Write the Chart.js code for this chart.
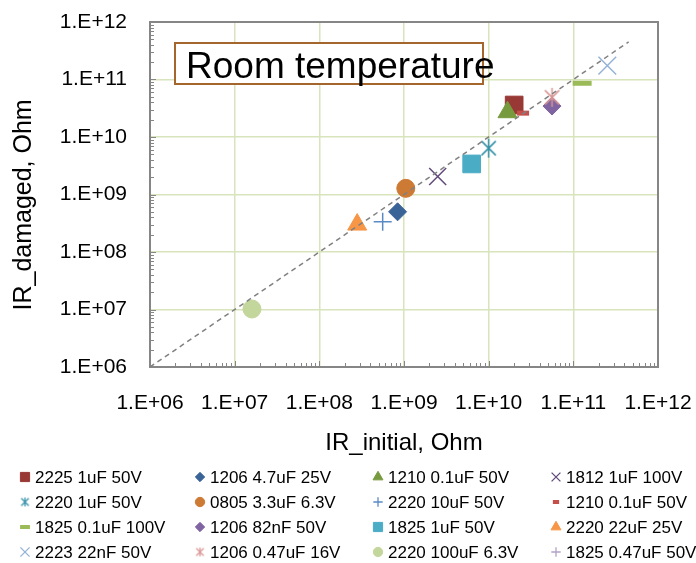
<!DOCTYPE html>
<html>
<head>
<meta charset="utf-8">
<title>IR damaged vs IR initial</title>
<script src="https://cdn.jsdelivr.net/npm/chart.js@4.4.1/dist/chart.umd.min.js"></script>
<style>
  html, body { margin: 0; padding: 0; background: #fff; }
  #wrap { width: 696px; height: 563px; position: relative; }
</style>
</head>
<body>
<div id="wrap"><canvas id="irChart"></canvas></div>
<script>
// Resistencia de isolamento antes / depois do dano (temperatura ambiente)
const seriesLabels = [
  '2225 1uF 50V', '1206 4.7uF 25V', '1210 0.1uF 50V', '1812 1uF 100V',
  '2220 1uF 50V', '0805 3.3uF 6.3V', '2220 10uF 50V', '1210 0.1uF 50V',
  '1825 0.1uF 100V', '1206 82nF 50V', '1825 1uF 50V', '2220 22uF 25V',
  '2223 22nF 50V', '1206 0.47uF 16V', '2220 100uF 6.3V', '1825 0.47uF 50V'
];
const irInitial = [2.0e10, 8.4e8, 1.67e10, 2.5e9, 1.0e10, 1.05e9, 5.6e8, 2.55e10,
  1.27e11, 5.6e10, 6.3e9, 2.8e8, 2.52e11, 5.6e10, 1.6e7, null];
const irDamaged = [3.6e10, 5.0e8, 2.7e10, 2.05e9, 6.4e9, 1.28e9, 3.35e8, 2.6e10,
  8.6e10, 3.45e10, 3.4e9, 3.0e8, 1.74e11, 4.9e10, 1.02e7, null];
const equalLine = [1e6, 4.5e11]; // linha y = x
const decades = [6, 7, 8, 9, 10, 11, 12];
const tickLabels = decades.map(p => '1.E+' + String(p).padStart(2, '0'));

// estilo de cada marcador (mesma ordem das series)
const markerStyles = [
  { shape: 'rect', color: '#983936', r: 12.5 },
  { shape: 'rectRot', color: '#3a6398', r: 9 },
  { shape: 'triangle', color: '#779a3e', r: 11 },
  { shape: 'crossRot', color: '#604a7b', r: 12 },
  { shape: 'asterisk', color: '#3490a8', r: 10 },
  { shape: 'circle', color: '#cd7a34', r: 9 },
  { shape: 'cross', color: '#5a8ac6', r: 9 },
  { shape: 'line', color: '#c54f4a', r: 6 },
  { shape: 'line', color: '#9bbb59', r: 9.5 },
  { shape: 'rectRot', color: '#8064a2', r: 9 },
  { shape: 'rect', color: '#4bacc6', r: 12.5 },
  { shape: 'triangle', color: '#f79646', r: 11 },
  { shape: 'crossRot', color: '#95b3d7', r: 12.5 },
  { shape: 'asterisk', color: '#d99694', r: 10 },
  { shape: 'circle', color: '#c3d69b', r: 9 },
  { shape: 'cross', color: '#b3a2c7', r: 9 }
];

// asterisco estilo Excel: X com traco vertical
function asterisk(color, size) {
  const c = document.createElement('canvas');
  c.width = c.height = size;
  const g = c.getContext('2d');
  const m = size / 2, d = size * 0.34;
  g.strokeStyle = color;
  g.lineWidth = size > 14 ? 1.5 : 1.2;
  g.beginPath();
  g.moveTo(m - d, m - d); g.lineTo(m + d, m + d);
  g.moveTo(m - d, m + d); g.lineTo(m + d, m - d);
  g.moveTo(m, 1); g.lineTo(m, size - 1);
  g.stroke();
  return c;
}

function pointStyleOf(s, small) {
  if (s.shape === 'asterisk') return asterisk(s.color, small ? 11 : 21);
  return s.shape;
}

function strokeOnly(shape) {
  return shape === 'cross' || shape === 'crossRot' || shape === 'line' || shape === 'asterisk';
}

const datasets = seriesLabels.map((label, i) => {
  const s = markerStyles[i];
  return {
    label: label,
    data: irInitial[i] == null ? [] : [{ x: irInitial[i], y: irDamaged[i] }],
    pointStyle: pointStyleOf(s, false),
    pointRadius: s.r,
    pointBackgroundColor: s.color,
    pointBorderColor: s.color,
    pointBorderWidth: s.shape === 'line' ? 5 : (strokeOnly(s.shape) ? 1.5 : 1),
    order: -i
  };
});

datasets.push({
  label: 'y = x',
  data: equalLine.map(v => ({ x: v, y: v })),
  showLine: true,
  borderColor: '#808080',
  borderWidth: 1.5,
  borderDash: [5, 4],
  pointRadius: 0,
  order: -100
});

function decadeTicks(scale) {
  scale.ticks = decades.map(p => ({ value: Math.pow(10, p), major: true }));
}

function fmtTick(value) {
  const i = decades.indexOf(Math.round(Math.log10(value)));
  return i >= 0 ? tickLabels[i] : '';
}

// tamanho fixo dos eixos, sem folga extra para os rotulos
function fixSize(scale, w, h) {
  if (w != null) scale.width = w;
  if (h != null) scale.height = h;
  scale.paddingLeft = scale.paddingRight = 0;
  scale.paddingTop = scale.paddingBottom = 0;
}

// moldura cinza e marcas menores internas
const frameTicks = {
  id: 'frameTicks',
  beforeDatasetsDraw(chart) {
    const { ctx, chartArea: a, scales: { x, y } } = chart;
    ctx.save();
    ctx.strokeStyle = '#868686';
    ctx.lineWidth = 1;
    ctx.beginPath();
    decades.slice(0, -1).forEach(p => {
      for (let k = 1; k <= 9; k++) {
        const v = k * Math.pow(10, p);
        const len = k === 1 ? 6 : 4;
        const px = Math.round(x.getPixelForValue(v)) + 0.5;
        ctx.moveTo(px, a.bottom);
        ctx.lineTo(px, a.bottom - len);
        const py = Math.round(y.getPixelForValue(v)) + 0.5;
        ctx.moveTo(a.left, py);
        ctx.lineTo(a.left + len, py);
      }
    });
    ctx.stroke();
    ctx.lineWidth = 2;
    ctx.strokeRect(a.left, a.top, a.width, a.height);
    ctx.restore();
  }
};

// caixa de texto "Room temperature"
const roomLabel = {
  id: 'roomLabel',
  afterDraw(chart) {
    const { ctx, chartArea: a } = chart;
    const bx = a.left + 25, by = a.top + 21, bw = 308, bh = 41;
    ctx.save();
    ctx.fillStyle = '#fff';
    ctx.fillRect(bx, by, bw, bh);
    ctx.strokeStyle = '#a5662e';
    ctx.lineWidth = 2;
    ctx.strokeRect(bx, by, bw, bh);
    ctx.fillStyle = '#000';
    ctx.font = '37px "Liberation Sans", Arial, sans-serif';
    ctx.textBaseline = 'alphabetic';
    ctx.fillText('Room temperature', bx + 11, by + 35);
    ctx.restore();
  }
};

// legenda em grade 4 x 4
const gridLegend = {
  id: 'gridLegend',
  afterDraw(chart) {
    const { ctx } = chart;
    const colX = [25, 200, 378, 556];
    const rowY = [477, 502, 527, 552];
    ctx.save();
    ctx.font = '17px "Liberation Sans", Arial, sans-serif';
    ctx.textBaseline = 'middle';
    seriesLabels.forEach((label, i) => {
      const s = markerStyles[i];
      const cx = colX[i % 4], cy = rowY[Math.floor(i / 4)];
      ctx.fillStyle = s.color;
      ctx.strokeStyle = s.color;
      ctx.lineWidth = s.shape === 'line' ? 4 : (strokeOnly(s.shape) ? 1.3 : 1);
      Chart.helpers.drawPoint(ctx, {
        pointStyle: pointStyleOf(s, true),
        radius: s.r * 0.52,
        borderWidth: ctx.lineWidth,
        rotation: 0
      }, cx, cy);
      ctx.fillStyle = '#000';
      ctx.fillText(label, cx + 10, cy + 1);
    });
    ctx.restore();
  }
};

const axisFont = { family: '"Liberation Sans", Arial, sans-serif', size: 21 };
const titleFont = { family: '"Liberation Sans", Arial, sans-serif', size: 24 };
const gridStyle = { color: '#d8e4bc', lineWidth: 1.5, drawTicks: false };

new Chart(document.getElementById('irChart'), {
  type: 'scatter',
  data: { datasets: datasets },
  options: {
    responsive: true,
    maintainAspectRatio: false,
    animation: false,
    layout: { padding: { left: 0, top: 22, right: 38, bottom: 105 } },
    plugins: { legend: { display: false }, tooltip: { enabled: false } },
    scales: {
      x: {
        type: 'logarithmic',
        min: 1e6, max: 1e12,
        afterBuildTicks: decadeTicks,
        afterFit(scale) { fixSize(scale, null, 91); },
        grid: gridStyle,
        border: { display: false },
        ticks: { callback: fmtTick, autoSkip: false, maxRotation: 0, padding: 24, color: '#000', font: axisFont },
        title: { display: true, text: 'IR_initial, Ohm', color: '#000', font: titleFont, padding: 0 }
      },
      y: {
        type: 'logarithmic',
        min: 1e6, max: 1e12,
        afterBuildTicks: decadeTicks,
        afterFit(scale) { fixSize(scale, 150, null); },
        grid: gridStyle,
        border: { display: false },
        ticks: { callback: fmtTick, autoSkip: false, padding: 23, color: '#000', font: axisFont },
        // espacos finais deslocam o texto um pouco para baixo
        title: { display: true, text: 'IR_damaged, Ohm   ', color: '#000',
          font: { family: '"Liberation Sans", Arial, sans-serif', size: 25 }, padding: { top: 9, bottom: 0 } }
      }
    }
  },
  plugins: [frameTicks, roomLabel, gridLegend]
});
</script>
</body>
</html>
